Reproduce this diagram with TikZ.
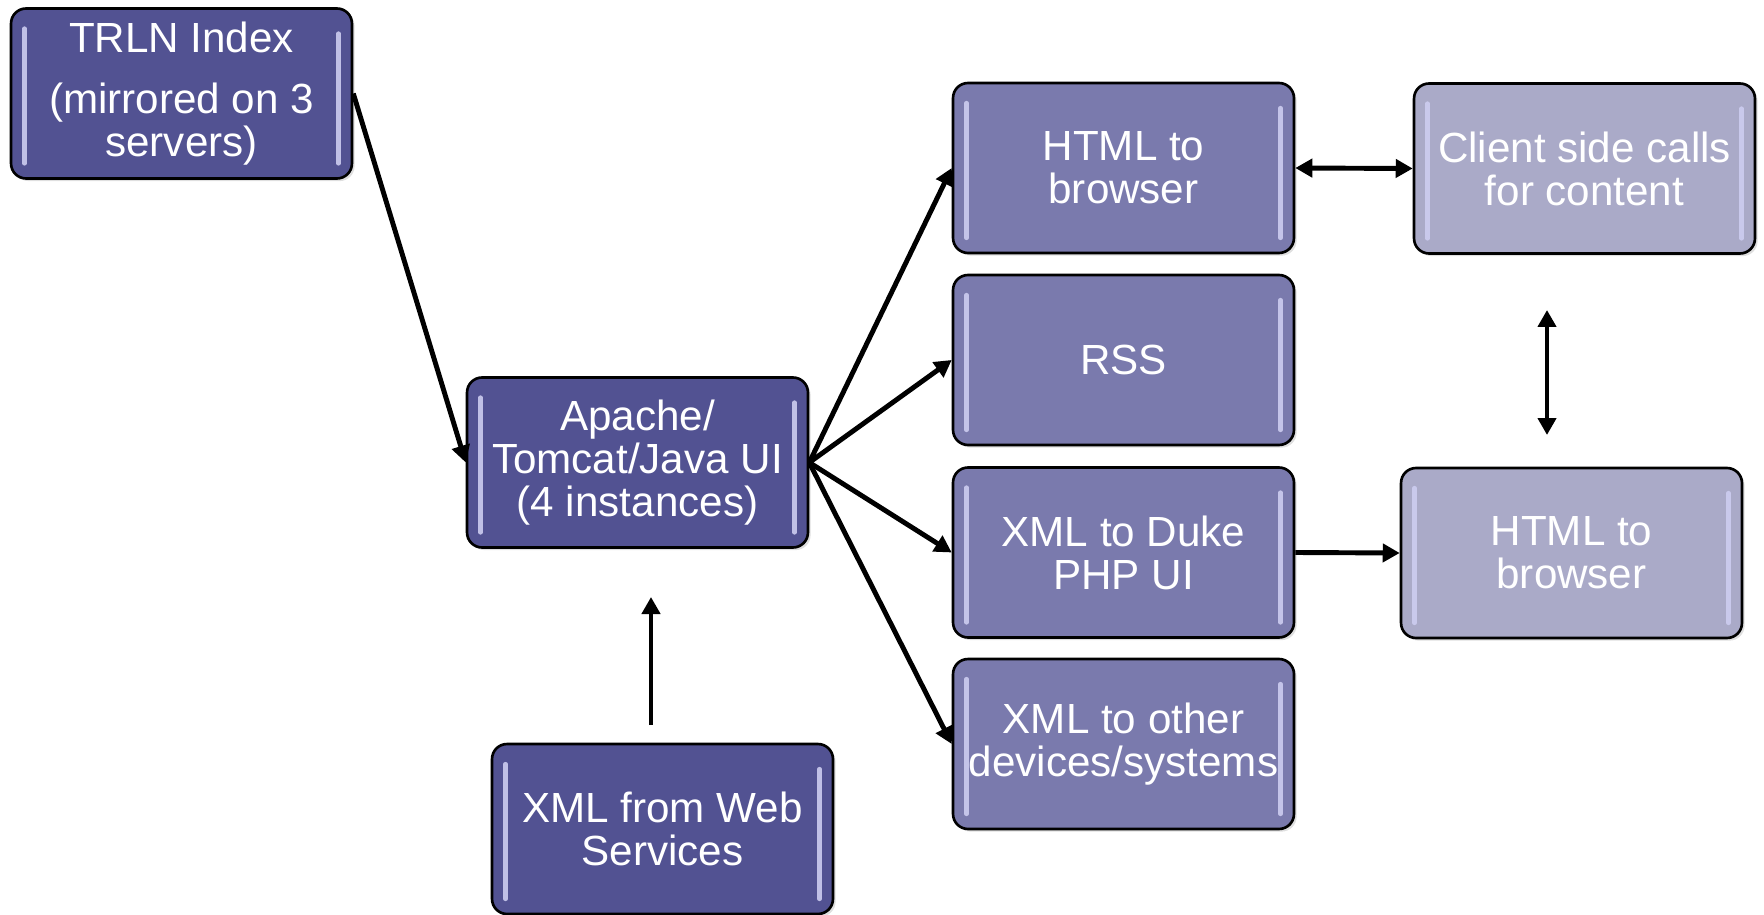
\documentclass[tikz,border=0pt]{standalone}
\usepackage{fontspec}
\setmainfont{Liberation Sans}
\usetikzlibrary{arrows.meta,shadows}
\definecolor{dkbox}{RGB}{82,82,146}
\definecolor{mdbox}{RGB}{122,122,173}
\definecolor{ltbox}{RGB}{170,170,200}
\definecolor{glint}{RGB}{205,205,240}
\tikzset{
  box/.style={draw=black, line width=1.5pt, rounded corners=0.3cm,
    minimum width=6.82cm, minimum height=3.4cm, align=center,
    text=white, inner sep=0pt,
    font=\fontsize{24}{24.5}\selectfont,
    drop shadow={shadow xshift=1.5pt, shadow yshift=-1.5pt, opacity=0.25},
    path picture={
      \draw[glint, line width=2.4pt, opacity=0.9, line cap=round]
        ([xshift=0.27cm,yshift=-0.4cm]path picture bounding box.north west) --
        ([xshift=0.27cm,yshift=0.3cm]path picture bounding box.south west);
      \draw[glint, line width=2.4pt, opacity=0.9, line cap=round]
        ([xshift=-0.27cm,yshift=-0.5cm]path picture bounding box.north east) --
        ([xshift=-0.27cm,yshift=0.3cm]path picture bounding box.south east);
    }},
  dark/.style={box, fill=dkbox},
  mid/.style={box, fill=mdbox},
  light/.style={box, fill=ltbox},
  conn/.style={line width=2.8pt, -{Triangle[width=0.36cm,length=0.34cm]}},
  dconn/.style={line width=2.8pt, {Triangle[width=0.36cm,length=0.34cm]}-{Triangle[width=0.36cm,length=0.34cm]}}
}
\begin{document}
\begin{tikzpicture}[x=0.02cm,y=-0.02cm]
\useasboundingbox (0,0) rectangle (1764,915);
\node[dark] (trln) at (181.5,93.5) {TRLN Index\\[10pt](mirrored on 3\\servers)};
\node[dark] (apache) at (637.5,462.5) {Apache/\\Tomcat/Java UI\\(4 instances)};
\node[dark] (xmlweb) at (662.5,829) {XML from Web\\Services};
\node[mid] (html1) at (1123.5,168) {HTML to\\browser};
\node[mid] (rss) at (1123.5,360) {RSS};
\node[mid] (duke) at (1123.5,552.5) {XML to Duke\\PHP UI};
\node[mid] (other) at (1123.5,744) {XML to other\\devices/systems};
\node[light] (client) at (1584.5,168.5) {Client side calls\\for content};
\node[light] (html2) at (1571.5,553) {HTML to\\browser};
\coordinate (upfrom) at (651,725);
\coordinate (upto) at (651,597);
\coordinate (vtop) at (1547,310);
\coordinate (vbot) at (1547,435);
\draw[conn] (trln.east) -- (apache.west);
\draw[conn] (apache.east) -- (html1.west);
\draw[conn] (apache.east) -- (rss.west);
\draw[conn] (apache.east) -- (duke.west);
\draw[conn] (apache.east) -- (other.west);
\draw[dconn] (html1.east) -- (client.west);
\draw[conn] (duke.east) -- (html2.west);
\draw[dconn] (vtop) -- (vbot);
\draw[conn] (upfrom) -- (upto);
\end{tikzpicture}
\end{document}
